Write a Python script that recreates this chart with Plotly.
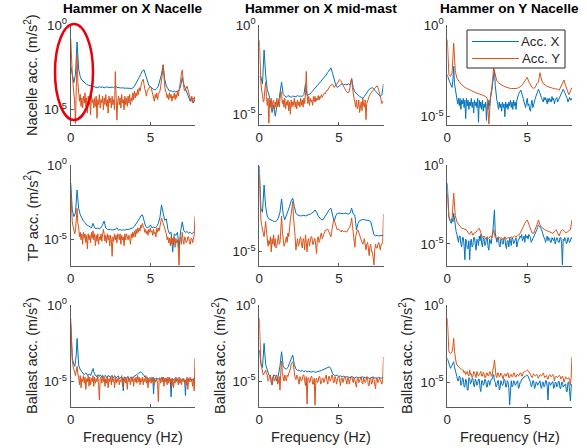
import plotly.graph_objects as go

# ---------------------------------------------------------------------------
# Data: acceleration spectra, stored as log10(amplitude in m/s^2).
# Smooth spectra use 0.1 Hz bins, noisy spectra use 0.05 Hz bins.
# ---------------------------------------------------------------------------
freq_coarse = [0.0, 0.1, 0.2, 0.3, 0.4, 0.5, 0.6, 0.7, 0.8, 0.9,
               1.0, 1.1, 1.2, 1.3, 1.4, 1.5, 1.6, 1.7, 1.8, 1.9,
               2.0, 2.1, 2.2, 2.3, 2.4, 2.5, 2.6, 2.7, 2.8, 2.9,
               3.0, 3.1, 3.2, 3.3, 3.4, 3.5, 3.6, 3.7, 3.8, 3.9,
               4.0, 4.1, 4.2, 4.3, 4.4, 4.5, 4.6, 4.7, 4.8, 4.9,
               5.0, 5.1, 5.2, 5.3, 5.4, 5.5, 5.6, 5.7, 5.8, 5.9,
               6.0, 6.1, 6.2, 6.3, 6.4, 6.5, 6.6, 6.7, 6.8, 6.9,
               7.0, 7.1, 7.2, 7.3, 7.4, 7.5, 7.6, 7.7, 7.8]
freq_fine = [0.0, 0.05, 0.1, 0.15, 0.2, 0.25, 0.3, 0.35, 0.4, 0.45,
             0.5, 0.55, 0.6, 0.65, 0.7, 0.75, 0.8, 0.85, 0.9, 0.95,
             1.0, 1.05, 1.1, 1.15, 1.2, 1.25, 1.3, 1.35, 1.4, 1.45,
             1.5, 1.55, 1.6, 1.65, 1.7, 1.75, 1.8, 1.85, 1.9, 1.95,
             2.0, 2.05, 2.1, 2.15, 2.2, 2.25, 2.3, 2.35, 2.4, 2.45,
             2.5, 2.55, 2.6, 2.65, 2.7, 2.75, 2.8, 2.85, 2.9, 2.95,
             3.0, 3.05, 3.1, 3.15, 3.2, 3.25, 3.3, 3.35, 3.4, 3.45,
             3.5, 3.55, 3.6, 3.65, 3.7, 3.75, 3.8, 3.85, 3.9, 3.95,
             4.0, 4.05, 4.1, 4.15, 4.2, 4.25, 4.3, 4.35, 4.4, 4.45,
             4.5, 4.55, 4.6, 4.65, 4.7, 4.75, 4.8, 4.85, 4.9, 4.95,
             5.0, 5.05, 5.1, 5.15, 5.2, 5.25, 5.3, 5.35, 5.4, 5.45,
             5.5, 5.55, 5.6, 5.65, 5.7, 5.75, 5.8, 5.85, 5.9, 5.95,
             6.0, 6.05, 6.1, 6.15, 6.2, 6.25, 6.3, 6.35, 6.4, 6.45,
             6.5, 6.55, 6.6, 6.65, 6.7, 6.75, 6.8, 6.85, 6.9, 6.95,
             7.0, 7.05, 7.1, 7.15, 7.2, 7.25, 7.3, 7.35, 7.4, 7.45,
             7.5, 7.55, 7.6, 7.65, 7.7, 7.75, 7.8]

hammer_cases = ["Hammer on X Nacelle", "Hammer on X mid-mast", "Hammer on Y Nacelle"]
sensor_labels = ["Nacelle acc. (m/s<sup>2</sup>)", "TP acc. (m/s<sup>2</sup>)",
                 "Ballast acc. (m/s<sup>2</sup>)"]
series_names = ["Acc. X", "Acc. Y"]

# ----- Nacelle sensor -----
nac_hxn_x = [-2.4, -3.0, -3.4, -2.9, -1.0, -2.6, -3.05, -3.25, -3.35, -3.45,
             -3.5, -3.55, -3.58, -3.6, -3.62, -3.65, -3.66, -3.7, -3.64, -3.68,
             -3.66, -3.7, -3.67, -3.65, -3.7, -3.68, -3.66, -3.7, -3.6, -3.68,
             -3.7, -3.68, -3.72, -3.7, -3.74, -3.72, -3.75, -3.74, -3.76, -3.72,
             -3.6, -3.45, -3.3, -3.1, -2.9, -2.7, -2.65, -3.0, -3.35, -3.55,
             -3.65, -3.75, -3.8, -3.82, -3.75, -3.6, -3.3, -2.9, -2.35, -3.2,
             -3.6, -3.8, -3.9, -3.88, -3.92, -3.9, -3.95, -3.9, -3.85, -3.6,
             -3.1, -3.5, -3.75, -3.9, -4.2, -4.5, -4.3, -4.6, -4.4]
nac_hxn_y = [-0.8, -2.2, -2.9, -3.5, -4.1, -4.6, -5.8, -3.2, -1.75, -3.4,
             -3.9, -4.5, -4.1, -4.8, -4.3, -4.9, -4.2, -4.6, -4.0, -4.8,
             -4.3, -5.2, -4.2, -4.7, -4.5, -5.3, -4.1, -4.6, -4.4, -4.9,
             -4.3, -4.8, -4.2, -5.5, -4.4, -4.7, -4.1, -4.9, -4.4, -4.6,
             -4.2, -5.0, -4.3, -4.7, -4.1, -4.8, -4.4, -5.2, -4.2, -4.6,
             -4.3, -4.9, -4.2, -4.7, -4.4, -5.0, -2.75, -4.0, -5.6, -4.5,
             -4.2, -4.7, -4.3, -4.9, -4.1, -4.6, -4.4, -5.0, -4.2, -4.7,
             -4.3, -4.8, -4.2, -4.6, -4.1, -4.7, -4.3, -4.5, -4.0, -4.4,
             -3.9, -4.3, -4.0, -4.2, -3.8, -4.1, -3.7, -3.9, -3.5, -3.4,
             -3.3, -3.2, -3.5, -3.8, -4.0, -4.2, -3.9, -3.8, -3.7, -3.6,
             -3.6, -3.7, -3.9, -4.1, -4.2, -4.5, -4.1, -4.3, -4.0, -4.4,
             -4.1, -4.0, -3.9, -3.6, -3.3, -2.9, -2.35, -3.2, -3.6, -3.9,
             -4.0, -4.3, -4.1, -4.4, -4.0, -4.3, -4.1, -4.5, -4.2, -4.3,
             -4.0, -4.4, -4.1, -4.3, -3.9, -4.2, -3.8, -3.6, -3.2, -2.9,
             -2.65, -3.3, -3.7, -3.9, -3.8, -3.7, -3.6, -3.8, -4.0, -4.2,
             -4.3, -4.5, -4.2, -4.6, -4.3, -4.4, -4.2]
nac_hxm_x = [-2.9, -2.9, -3.3, -1.4, -2.8, -3.6, -3.9, -4.3, -4.9, -4.5,
             -5.1, -4.6, -4.4, -3.8, -3.2, -3.9, -4.0, -4.05, -3.95, -4.0,
             -4.05, -3.98, -4.0, -4.02, -3.95, -4.0, -3.98, -4.0, -3.9, -3.3,
             -3.95, -3.9, -3.85, -3.75, -3.65, -3.55, -3.45, -3.35, -3.25, -3.15,
             -3.05, -2.95, -2.8, -2.65, -2.5, -2.4, -2.7, -3.1, -3.35, -3.5,
             -3.4, -3.35, -3.3, -3.35, -3.32, -3.35, -3.3, -3.35, -3.0, -3.5,
             -3.75, -3.85, -3.9, -4.0, -4.05, -4.1, -4.0, -3.85, -3.7, -3.6,
             -3.55, -3.5, -3.6, -3.7, -3.85, -3.95, -4.0, -3.9, -3.3]
nac_hxm_y = [-0.85, -2.6, -3.2, -3.7, -3.9, -4.3, -4.2, -3.6, -3.2, -4.0,
             -4.5, -4.1, -5.5, -4.2, -4.6, -4.1, -4.7, -4.3, -4.2, -4.8,
             -4.3, -4.6, -4.1, -4.5, -4.2, -4.6, -3.9, -3.7, -3.9, -4.4,
             -4.2, -4.6, -4.1, -4.7, -4.3, -4.5, -4.2, -4.8, -4.3, -5.0,
             -4.2, -4.6, -4.3, -4.5, -4.1, -4.6, -4.3, -4.7, -4.2, -4.5,
             -4.3, -4.6, -4.1, -4.5, -4.2, -4.6, -4.1, -4.4, -3.8, -2.6,
             -3.9, -4.4, -4.0, -4.5, -4.1, -4.3, -4.2, -4.5, -4.0, -4.3,
             -4.0, -4.3, -4.1, -4.2, -3.95, -4.2, -4.0, -4.1, -3.9, -4.05,
             -3.95, -3.9, -3.8, -3.85, -3.7, -3.7, -3.6, -3.55, -3.45, -3.4,
             -3.4, -3.35, -3.3, -3.4, -3.5, -3.45, -3.4, -3.3, -3.25, -3.2,
             -3.1, -3.05, -3.1, -3.2, -3.3, -3.4, -3.5, -3.55, -3.6, -3.7,
             -3.75, -3.8, -3.8, -3.7, -3.5, -3.3, -3.0, -3.5, -3.9, -4.1,
             -4.3, -4.6, -4.2, -4.7, -4.6, -4.2, -4.9, -4.4, -4.3, -4.8,
             -4.1, -4.5, -4.6, -4.2, -5.3, -4.4, -4.3, -4.1, -4.0, -3.9,
             -3.8, -3.75, -3.7, -3.65, -3.6, -3.55, -3.5, -3.45, -3.4, -3.5,
             -3.6, -3.8, -4.0, -4.2, -4.4, -4.3, -4.3]
nac_hyn_x = [-2.7, -2.9, -3.0, -3.1, -3.2, -3.3, -3.4, -3.0, -2.25, -3.2,
             -3.5, -3.8, -3.9, -4.3, -4.0, -4.4, -4.0, -4.6, -4.1, -4.3,
             -4.0, -4.5, -4.1, -5.1, -4.0, -4.4, -4.1, -4.6, -4.2, -4.4,
             -4.0, -4.5, -4.2, -4.8, -4.1, -4.4, -4.2, -4.5, -4.0, -5.3,
             -4.1, -4.5, -4.2, -4.6, -4.1, -4.7, -4.3, -4.5, -4.2, -5.2,
             -4.3, -4.6, -4.1, -4.4, -4.0, -3.8, -3.5, -3.1, -2.7, -2.45,
             -3.3, -3.8, -4.1, -4.3, -4.6, -4.2, -4.5, -4.3, -4.7, -4.2,
             -4.5, -4.3, -5.0, -4.2, -4.5, -4.3, -4.6, -4.2, -4.4, -4.1,
             -4.5, -4.2, -4.6, -4.1, -4.4, -4.2, -4.6, -4.1, -3.9, -3.8,
             -3.7, -3.6, -3.55, -3.7, -3.8, -4.0, -4.2, -4.4, -4.5, -4.2,
             -4.0, -4.4, -4.3, -4.6, -4.7, -4.3, -4.1, -4.5, -4.4, -4.2,
             -4.0, -3.9, -3.8, -3.6, -3.5, -3.6, -3.7, -3.9, -4.0, -4.1,
             -4.2, -3.95, -4.1, -3.95, -4.15, -4.3, -4.0, -4.2, -4.0, -4.1,
             -4.2, -3.9, -4.1, -4.0, -4.3, -4.1, -4.0, -3.95, -4.2, -4.1,
             -4.0, -3.9, -3.8, -3.7, -3.6, -3.5, -3.6, -3.7, -3.8, -3.9,
             -4.0, -4.2, -4.1, -3.95, -4.1, -4.0, -4.1]
nac_hyn_y = [-0.8, -2.7, -2.8, -2.6, -1.0, -2.5, -2.9, -3.05, -3.15, -3.25,
             -3.35, -3.4, -3.45, -3.5, -3.55, -3.6, -3.63, -3.66, -3.7, -3.72,
             -3.75, -3.78, -3.82, -3.86, -3.9, -4.0, -5.4, -3.9, -3.3, -2.35,
             -2.8, -3.05, -3.15, -3.22, -3.28, -3.32, -3.36, -3.4, -3.43, -3.45,
             -3.46, -3.47, -3.47, -3.46, -3.44, -3.4, -3.35, -3.25, -3.1, -2.95,
             -2.85, -3.1, -3.3, -3.4, -3.45, -3.4, -3.2, -3.1, -2.6, -3.0,
             -3.2, -3.28, -3.32, -3.36, -3.4, -3.42, -3.45, -3.47, -3.48, -3.5,
             -3.55, -3.35, -3.1, -3.0, -3.3, -3.6, -3.8, -3.6, -3.4]

# ----- Transition piece (TP) sensor -----
tp_hxn_x = [-1.2, -3.0, -3.45, -3.2, -1.67, -2.9, -3.33, -3.6, -3.75, -3.85,
            -4.0, -4.05, -4.1, -4.2, -3.9, -4.2, -4.25, -4.22, -4.26, -4.2,
            -4.0, -3.74, -4.2, -4.3, -4.32, -4.3, -4.35, -4.32, -4.3, -4.2,
            -4.35, -4.32, -4.36, -4.33, -4.35, -4.3, -4.32, -4.28, -4.25, -4.2,
            -4.1, -3.95, -3.8, -3.6, -3.4, -3.33, -3.7, -4.1, -4.2, -4.15,
            -4.0, -4.2, -4.15, -4.2, -4.1, -3.9, -3.5, -2.67, -3.2, -3.7,
            -3.6, -4.3, -4.6, -4.5, -5.8, -4.6, -4.7, -4.5, -5.6, -4.4,
            -3.8, -4.4, -4.5, -4.45, -4.55, -4.5, -4.6, -4.5, -4.55]
tp_hxn_y = [-1.67, -3.2, -3.8, -4.1, -4.3, -4.6, -4.4, -3.8, -2.9, -3.9,
            -4.2, -4.8, -4.5, -5.0, -4.6, -5.3, -4.5, -4.9, -4.6, -5.2,
            -4.7, -5.6, -4.6, -5.0, -4.7, -5.2, -4.5, -4.9, -4.4, -5.0,
            -4.6, -5.4, -4.7, -5.1, -4.6, -5.3, -4.8, -5.0, -4.6, -5.1,
            -4.4, -4.3, -4.6, -5.1, -4.7, -5.2, -4.6, -5.0, -4.7, -5.4,
            -4.7, -5.0, -6.1, -4.8, -5.1, -4.6, -5.0, -4.7, -5.2, -4.6,
            -4.7, -5.0, -4.6, -5.3, -4.7, -5.0, -4.8, -5.4, -4.6, -5.0,
            -4.6, -4.9, -5.0, -4.7, -4.9, -5.3, -4.6, -4.9, -4.5, -4.8,
            -4.4, -4.8, -4.3, -4.6, -4.2, -4.5, -4.2, -4.4, -4.0, -4.2,
            -3.9, -4.1, -4.2, -4.5, -4.3, -4.6, -4.4, -4.7, -4.3, -4.5,
            -4.2, -4.5, -4.4, -4.7, -4.3, -4.6, -4.5, -4.8, -4.2, -4.5,
            -4.2, -4.4, -4.0, -3.8, -3.55, -3.7, -3.9, -4.1, -4.3, -4.5,
            -4.6, -5.0, -4.8, -5.2, -4.9, -5.4, -4.8, -5.3, -4.9, -5.2,
            -4.8, -5.5, -4.9, -5.2, -5.0, -5.6, -6.7, -5.0, -4.8, -5.3,
            -4.5, -5.0, -5.3, -4.8, -4.9, -5.2, -5.1, -4.8, -4.8, -5.2,
            -5.3, -4.9, -4.9, -5.2, -5.0, -4.7, -3.45]
tp_hxm_x = [-0.45, -2.7, -2.9, -1.46, -2.6, -3.1, -3.25, -3.3, -3.35, -3.38,
            -3.4, -3.35, -3.2, -2.9, -2.2, -3.0, -3.3, -3.1, -2.9, -2.6,
            -2.3, -2.16, -2.6, -2.95, -3.05, -3.08, -3.1, -3.08, -3.06, -3.1,
            -3.08, -3.05, -3.0, -2.95, -2.9, -2.78, -2.9, -3.1, -3.2, -3.3,
            -3.3, -3.15, -3.0, -2.85, -2.75, -2.69, -3.0, -3.4, -3.1, -2.96,
            -2.95, -2.97, -3.0, -2.98, -2.95, -2.97, -3.0, -2.95, -2.69, -3.0,
            -3.05, -3.84, -3.5, -3.35, -3.3, -3.28, -3.3, -3.32, -3.3, -3.35,
            -3.4, -3.7, -4.1, -4.15, -4.12, -4.16, -4.14, -4.15, -4.12]
tp_hxm_y = [-0.93, -2.8, -3.3, -3.6, -3.85, -4.0, -4.2, -3.8, -3.4, -3.9,
            -4.3, -4.7, -4.4, -4.6, -4.2, -5.0, -4.3, -4.6, -4.1, -4.7,
            -4.3, -4.8, -4.7, -4.4, -4.1, -4.6, -4.5, -3.8, -3.1, -3.9,
            -4.4, -4.7, -4.6, -4.3, -4.2, -4.5, -4.0, -4.2, -3.6, -3.3,
            -3.0, -2.7, -2.34, -3.2, -3.6, -4.2, -4.9, -4.4, -4.3, -4.7,
            -4.6, -4.3, -4.2, -4.6, -4.8, -4.3, -4.4, -4.9, -4.1, -4.5,
            -5.0, -4.4, -4.3, -4.7, -4.5, -4.2, -4.2, -4.6, -4.6, -4.3,
            -4.3, -4.7, -5.1, -4.3, -4.2, -4.5, -4.4, -4.1, -4.0, -4.3,
            -4.2, -4.0, -3.9, -3.85, -3.85, -3.8, -3.8, -3.9, -4.0, -4.1,
            -4.2, -3.9, -3.6, -3.4, -3.3, -3.45, -3.6, -3.75, -3.85, -3.8,
            -3.8, -3.85, -3.9, -3.95, -3.85, -3.9, -3.95, -3.9, -3.9, -3.95,
            -3.95, -3.85, -3.8, -3.75, -3.65, -3.5, -3.2, -3.6, -3.9, -4.3,
            -4.75, -4.2, -3.9, -3.85, -3.85, -4.0, -4.1, -4.3, -4.4, -4.5,
            -4.6, -4.4, -4.3, -4.6, -4.9, -4.6, -4.5, -4.8, -5.2, -4.7,
            -4.6, -5.0, -5.0, -5.3, -5.69, -4.9, -4.6, -4.8, -4.8, -4.6,
            -4.5, -4.7, -4.9, -4.6, -4.6, -4.5, -3.0]
tp_hyn_x = [-1.16, -2.9, -3.3, -3.5, -3.6, -3.7, -3.4, -3.6, -3.06, -3.6,
            -3.9, -4.2, -4.4, -4.7, -4.9, -4.5, -4.5, -5.0, -5.2, -4.6,
            -4.6, -5.1, -6.0, -4.7, -4.8, -5.3, -5.3, -4.8, -6.0, -4.9,
            -4.7, -5.2, -5.1, -4.6, -4.6, -5.0, -5.4, -4.7, -4.8, -5.1,
            -4.5, -4.8, -4.4, -5.0, -5.2, -4.6, -4.7, -5.1, -5.0, -4.6,
            -4.6, -5.2, -5.4, -4.7, -4.8, -5.0, -4.5, -4.2, -3.5, -2.85,
            -4.3, -4.8, -4.9, -4.6, -4.6, -5.1, -5.2, -4.7, -4.7, -5.0,
            -5.0, -4.6, -4.6, -5.1, -5.3, -4.8, -4.8, -5.2, -4.6, -4.8,
            -5.1, -4.6, -4.7, -5.0, -4.9, -4.7, -4.6, -5.2, -5.0, -4.7,
            -4.7, -4.5, -4.6, -4.4, -4.8, -4.6, -4.5, -4.9, -4.4, -4.6,
            -4.5, -4.7, -4.4, -4.5, -4.6, -4.9, -4.8, -4.6, -4.6, -4.5,
            -4.4, -4.3, -4.1, -3.95, -3.8, -3.85, -3.9, -4.0, -4.1, -4.3,
            -4.4, -4.6, -4.7, -4.9, -4.6, -4.5, -4.8, -4.6, -4.65, -4.9,
            -4.9, -4.6, -4.7, -4.8, -4.6, -5.0, -4.8, -4.6, -4.7, -4.9,
            -4.9, -4.6, -4.6, -5.0, -6.33, -4.7, -4.8, -4.6, -4.7, -5.0,
            -4.9, -4.6, -4.75, -4.9, -4.8, -4.6, -4.7]
tp_hyn_y = [-1.79, -3.3, -3.5, -3.4, -1.79, -3.2, -3.6, -3.8, -3.9, -4.0,
            -4.05, -4.1, -4.11, -4.3, -4.4, -4.2, -4.45, -4.3, -4.25, -4.1,
            -4.01, -4.3, -4.6, -4.5, -4.7, -4.55, -4.65, -4.5, -4.6, -4.1,
            -4.6, -4.7, -4.55, -4.65, -4.6, -4.75, -4.55, -4.7, -4.6, -4.65,
            -4.55, -4.6, -4.5, -4.55, -4.45, -4.43, -4.2, -4.0, -3.8, -3.6,
            -3.48, -3.8, -4.1, -4.3, -4.33, -4.1, -3.8, -3.48, -3.8, -3.95,
            -4.05, -4.1, -4.15, -4.2, -4.25, -4.3, -4.33, -4.2, -4.1, -4.3,
            -4.5, -4.2, -4.1, -4.15, -4.3, -4.25, -4.2, -4.1, -3.48]

# ----- Ballast sensor -----
bal_hxn_x = [-1.2, -2.8, -3.4, -3.7, -3.9, -4.0, -3.7, -3.2, -2.18, -3.4,
             -3.9, -4.1, -4.25, -4.3, -4.35, -4.45, -4.45, -4.55, -4.5, -4.45,
             -4.47, -4.6, -4.55, -4.5, -4.5, -4.6, -4.4, -4.3, -4.14, -4.35,
             -4.5, -4.6, -4.6, -4.7, -4.55, -4.65, -4.65, -4.55, -4.6, -4.7,
             -4.58, -4.7, -4.65, -4.6, -4.6, -4.75, -4.7, -4.6, -4.62, -4.7,
             -4.68, -4.6, -4.6, -4.75, -4.72, -4.6, -4.65, -4.75, -4.7, -4.65,
             -4.62, -4.8, -4.75, -4.7, -4.68, -4.8, -5.6, -4.7, -4.7, -4.8,
             -4.75, -4.7, -4.65, -4.8, -4.8, -4.7, -4.7, -4.75, -4.72, -4.7,
             -4.65, -4.6, -4.6, -4.55, -4.5, -4.45, -4.4, -4.38, -4.36, -4.4,
             -4.45, -4.5, -4.6, -4.7, -4.75, -4.7, -4.7, -4.8, -4.8, -4.75,
             -4.75, -4.8, -4.82, -4.75, -5.8, -4.8, -4.8, -4.85, -4.75, -4.8,
             -4.85, -4.75, -4.8, -4.85, -4.78, -4.9, -4.7, -4.8, -4.85, -4.8,
             -4.8, -4.9, -4.9, -4.8, -4.8, -4.85, -5.99, -4.8, -4.85, -4.9,
             -4.8, -4.85, -4.9, -4.8, -4.85, -4.95, -5.0, -4.85, -4.8, -4.9,
             -4.9, -4.8, -4.85, -4.9, -5.9, -4.85, -4.9, -4.8, -4.8, -4.9,
             -4.85, -4.8, -4.9, -4.85, -4.8, -4.9, -4.85]
bal_hxn_y = [-0.87, -3.0, -3.6, -4.0, -4.2, -4.5, -4.6, -4.3, -4.0, -4.5,
             -4.7, -5.2, -4.6, -5.4, -4.8, -5.0, -4.6, -5.1, -4.7, -5.5,
             -4.8, -5.0, -4.6, -5.3, -4.7, -5.2, -4.8, -5.0, -4.6, -5.3,
             -4.7, -5.1, -4.8, -5.0, -4.6, -5.2, -6.2, -4.8, -4.7, -5.1,
             -4.6, -5.0, -4.7, -5.3, -4.8, -5.1, -4.7, -5.4, -4.8, -5.0,
             -4.7, -5.2, -4.6, -5.0, -4.8, -5.4, -4.7, -5.1, -4.8, -5.0,
             -4.7, -5.2, -4.9, -5.0, -4.6, -5.3, -4.8, -5.0, -4.7, -5.1,
             -4.8, -5.5, -4.7, -5.0, -4.8, -5.2, -4.7, -5.0, -4.7, -5.3,
             -4.8, -5.0, -4.7, -5.1, -4.6, -5.0, -4.7, -5.2, -4.8, -5.0,
             -4.7, -5.2, -4.8, -5.0, -4.6, -5.1, -4.7, -5.4, -4.8, -5.0,
             -4.8, -5.1, -4.7, -5.0, -4.7, -5.2, -4.9, -5.0, -4.8, -5.1,
             -6.3, -4.9, -4.8, -5.1, -4.7, -5.0, -4.7, -5.3, -4.8, -5.0,
             -4.8, -5.2, -4.7, -5.1, -4.7, -5.0, -4.8, -5.3, -4.8, -5.4,
             -4.9, -5.1, -4.7, -5.0, -4.8, -5.2, -4.7, -5.1, -4.9, -5.2,
             -4.8, -5.0, -4.8, -5.1, -4.9, -5.2, -4.7, -5.5, -4.8, -5.0,
             -4.7, -5.0, -4.9, -5.3, -4.8, -5.6, -3.49]
bal_hxm_x = [-2.96, -3.84, -4.1, -2.52, -3.9, -4.3, -4.61, -4.7, -5.26, -4.6,
             -4.65, -5.0, -4.6, -4.0, -3.07, -4.0, -4.17, -4.2, -4.1, -3.8,
             -3.5, -3.29, -3.9, -4.2, -4.3, -4.28, -4.35, -4.3, -4.38, -4.32,
             -4.4, -4.35, -4.39, -4.4, -4.36, -4.42, -4.4, -4.38, -4.35, -4.3,
             -4.25, -4.2, -4.15, -4.1, -4.06, -4.2, -4.5, -4.6, -4.65, -4.6,
             -4.7, -4.65, -4.72, -4.68, -4.75, -4.7, -4.72, -4.78, -4.7, -4.75,
             -4.8, -4.72, -4.78, -4.75, -4.8, -4.72, -4.78, -4.8, -4.75, -4.82,
             -4.78, -4.75, -4.8, -4.78, -4.82, -4.75, -4.8, -4.78, -4.8]
bal_hxm_y = [-0.88, -3.3, -3.9, -4.1, -4.3, -4.6, -4.5, -4.4, -4.28, -4.5,
             -4.6, -5.0, -4.9, -4.6, -4.6, -5.1, -5.2, -4.7, -4.7, -5.0,
             -4.9, -4.6, -4.6, -5.2, -5.1, -4.7, -5.59, -4.4, -3.7, -4.5,
             -4.8, -5.0, -4.6, -4.9, -5.0, -4.6, -4.7, -4.5, -4.4, -4.2,
             -3.9, -3.8, -3.73, -4.0, -4.5, -4.8, -4.9, -4.6, -4.7, -5.1,
             -5.2, -4.7, -4.8, -5.0, -4.9, -4.6, -4.6, -5.1, -5.3, -4.7,
             -6.5, -4.8, -4.8, -5.1, -5.0, -4.7, -4.7, -5.2, -5.2, -4.8,
             -6.58, -4.9, -4.8, -5.1, -5.0, -4.7, -4.7, -5.2, -5.1, -4.8,
             -4.8, -5.1, -4.9, -4.7, -4.6, -5.0, -5.2, -4.7, -4.7, -5.0,
             -4.9, -4.6, -4.6, -5.1, -5.1, -4.7, -4.8, -5.2, -5.0, -4.7,
             -4.7, -5.0, -5.3, -4.8, -4.8, -5.1, -4.9, -4.7, -4.7, -5.1,
             -5.2, -4.8, -4.8, -5.2, -5.0, -4.7, -4.7, -5.0, -5.1, -4.8,
             -4.9, -5.2, -5.4, -4.8, -4.8, -5.1, -5.0, -4.8, -4.7, -5.1,
             -5.2, -4.8, -4.9, -5.1, -5.0, -4.7, -4.8, -5.3, -5.3, -4.8,
             -4.8, -5.2, -5.1, -4.7, -4.9, -5.3, -5.5, -4.8, -4.8, -5.1,
             -5.0, -4.8, -4.9, -5.1, -5.2, -4.9, -3.4]
bal_hyn_x = [-3.45, -3.6, -3.67, -3.9, -4.1, -4.0, -3.9, -3.8, -3.67, -4.0,
             -4.3, -4.6, -4.64, -4.9, -4.9, -4.6, -4.7, -5.2, -5.1, -4.7,
             -4.8, -5.3, -5.3, -4.8, -4.9, -5.5, -5.5, -4.7, -4.8, -5.1,
             -5.0, -4.75, -4.75, -5.2, -5.3, -4.8, -4.9, -5.2, -5.1, -4.8,
             -4.8, -5.4, -5.6, -4.9, -4.9, -5.2, -5.1, -4.8, -4.85, -5.3,
             -5.3, -4.9, -4.9, -5.2, -5.05, -4.8, -4.8, -4.6, -4.5, -4.9,
             -5.0, -5.3, -5.2, -4.9, -4.9, -5.5, -5.4, -4.9, -5.0, -5.2,
             -5.1, -4.8, -4.85, -5.3, -5.3, -4.9, -5.0, -5.4, -6.47, -5.0,
             -4.9, -5.3, -5.2, -4.9, -4.95, -5.2, -5.1, -4.9, -4.9, -5.4,
             -5.3, -5.0, -5.0, -4.8, -4.8, -4.7, -4.7, -4.6, -4.6, -4.55,
             -4.53, -4.6, -4.7, -4.9, -5.0, -5.3, -5.2, -4.9, -4.9, -5.4,
             -5.3, -5.0, -5.0, -5.2, -5.1, -4.9, -4.9, -5.3, -5.4, -5.0,
             -5.0, -5.3, -5.2, -4.9, -4.9, -5.3, -6.15, -5.0, -5.0, -5.2,
             -5.1, -4.95, -4.95, -5.4, -5.3, -5.0, -5.0, -5.3, -5.2, -4.95,
             -4.95, -5.4, -5.4, -5.0, -5.0, -5.3, -5.2, -5.1, -5.1, -5.6,
             -5.6, -5.0, -5.0, -5.6, -6.2, -5.3, -5.1]
bal_hyn_y = [-0.86, -2.6, -3.02, -3.1, -3.13, -3.1, -3.0, -2.7, -2.16, -3.0,
             -3.5, -3.7, -3.88, -3.95, -4.0, -4.05, -4.1, -4.15, -4.15, -4.2,
             -4.21, -4.4, -4.3, -4.5, -4.4, -4.3, -4.5, -4.6, -4.2, -4.5,
             -4.45, -4.7, -4.6, -4.3, -4.35, -4.6, -4.7, -4.3, -4.4, -4.6,
             -4.5, -4.35, -4.3, -4.6, -4.6, -4.35, -4.45, -4.7, -4.7, -4.4,
             -4.4, -4.6, -4.55, -4.3, -4.35, -4.6, -4.6, -4.2, -4.0, -3.56,
             -4.5, -4.6, -4.7, -4.4, -4.4, -4.65, -4.6, -4.4, -4.5, -4.7,
             -4.8, -4.5, -4.45, -4.6, -4.6, -4.4, -4.4, -4.7, -4.7, -4.5,
             -4.5, -4.65, -4.6, -4.4, -4.4, -4.65, -4.65, -4.5, -4.5, -4.6,
             -4.55, -4.4, -4.4, -4.6, -4.6, -4.35, -4.35, -4.3, -4.3, -4.25,
             -4.2, -4.25, -4.3, -4.4, -4.5, -4.6, -4.7, -4.55, -4.45, -4.5,
             -4.6, -4.55, -4.5, -4.6, -4.75, -4.6, -4.5, -4.55, -4.6, -4.5,
             -4.4, -4.55, -4.7, -4.6, -4.55, -4.7, -4.8, -4.6, -4.5, -4.55,
             -4.65, -4.55, -4.5, -4.6, -4.9, -4.7, -4.6, -4.65, -4.7, -4.6,
             -4.55, -4.6, -4.8, -4.7, -4.6, -4.75, -5.0, -4.8, -4.65, -4.7,
             -4.8, -4.75, -4.7, -4.9, -5.2, -4.6, -3.34]

# (Acc. X, Acc. Y) per panel; rows = sensor, columns = hammer case
spectra = [
    [(nac_hxn_x, nac_hxn_y), (nac_hxm_x, nac_hxm_y), (nac_hyn_x, nac_hyn_y)],
    [(tp_hxn_x, tp_hxn_y), (tp_hxm_x, tp_hxm_y), (tp_hyn_x, tp_hyn_y)],
    [(bal_hxn_x, bal_hxn_y), (bal_hxm_x, bal_hxm_y), (bal_hyn_x, bal_hyn_y)],
]

# y-axis limits per panel (log10 of m/s^2)
y_log_limits = [
    [(-5.9, 0.0), (-5.6, 0.0), (-5.45, 0.0)],
    [(-6.75, 0.0), (-5.75, -0.4), (-6.4, 0.0)],
    [(-6.65, 0.0), (-6.7, 0.0), (-6.6, 0.0)],
]
x_limits = (0.0, 7.8)


def grid_for(values):
    if len(values) == len(freq_fine):
        return freq_fine
    assert len(values) == len(freq_coarse), len(values)
    return freq_coarse


# ---------------------------------------------------------------------------
# Figure
# ---------------------------------------------------------------------------
W, H = 587, 448
BLUE = "#0072BD"
ORANGE = "#D95319"
AXIS_COLOR = "#5a5a5a"
TEXT_COLOR = "#262626"
FONT = "Liberation Sans, Arial, Helvetica, sans-serif"

col_px = [(70.7, 195.0), (259.3, 383.5), (447.3, 572.0)]
row_px = [(25.0, 125.0), (165.0, 266.0), (305.0, 407.0)]


def px_x(p):
    return p / W


def px_y(p):
    return 1.0 - p / H


fig = go.Figure()
layout = dict(
    width=W, height=H, autosize=False,
    margin=dict(l=0, r=0, t=0, b=0, pad=0, autoexpand=False),
    paper_bgcolor="white", plot_bgcolor="white",
    showlegend=False,
    font=dict(family=FONT, color=TEXT_COLOR),
)

annotations = []
shapes = []

for r in range(3):
    for c in range(3):
        idx = r * 3 + c + 1
        sx = "" if idx == 1 else str(idx)
        accx, accy = spectra[r][c]
        for vals, color, name in ((accx, BLUE, series_names[0]), (accy, ORANGE, series_names[1])):
            fig.add_trace(go.Scatter(
                x=grid_for(vals), y=[10 ** v for v in vals], mode="lines", name=name,
                line=dict(color=color, width=1), xaxis="x" + sx, yaxis="y" + sx,
                hoverinfo="skip",
            ))
        x0, x1 = col_px[c]
        y0, y1 = row_px[r]
        layout["xaxis" + sx] = dict(
            domain=[px_x(x0), px_x(x1)], anchor="y" + sx, range=list(x_limits),
            tickvals=[0, 5], ticks="inside", ticklen=3, tickcolor=AXIS_COLOR,
            showline=True, linecolor=AXIS_COLOR, linewidth=1,
            showgrid=False, zeroline=False, automargin=False,
            tickfont=dict(size=13.3, color=TEXT_COLOR, family=FONT),
        )
        lo, hi = y_log_limits[r][c]
        layout["yaxis" + sx] = dict(
            domain=[px_y(y1), px_y(y0)], anchor="x" + sx, type="log", range=[lo, hi],
            tickvals=[1e-5, 1.0], ticktext=["10<sup>-5</sup>", "10<sup>0</sup>"],
            ticks="inside", ticklen=3, tickcolor=AXIS_COLOR,
            showline=True, linecolor=AXIS_COLOR, linewidth=1,
            showgrid=False, zeroline=False, automargin=False,
            tickfont=dict(size=13.3, color=TEXT_COLOR, family=FONT),
        )

# column titles and x-axis labels
for c in range(3):
    xc = px_x(sum(col_px[c]) / 2)
    annotations.append(dict(
        x=xc, y=px_y(8.5), xref="paper", yref="paper", text="<b>" + hammer_cases[c] + "</b>",
        showarrow=False, xanchor="center", yanchor="middle",
        font=dict(size=13.6, color="#000000", family=FONT),
    ))
    annotations.append(dict(
        x=xc, y=px_y(437), xref="paper", yref="paper", text="Frequency (Hz)",
        showarrow=False, xanchor="center", yanchor="middle",
        font=dict(size=14.5, color=TEXT_COLOR, family=FONT),
    ))

# y-axis labels: left column on every row, plus the bottom row of the other columns
ylabel_x = [31, 219, 406]
for r in range(3):
    for c in range(3):
        if c > 0 and r < 2:
            continue
        annotations.append(dict(
            x=px_x(ylabel_x[c]), y=px_y(sum(row_px[r]) / 2), xref="paper", yref="paper",
            text=sensor_labels[r], textangle=-90, showarrow=False,
            xanchor="center", yanchor="middle",
            font=dict(size=14.5, color=TEXT_COLOR, family=FONT),
        ))

# legend box in the top-right panel
shapes.append(dict(type="rect", xref="paper", yref="paper",
                   x0=px_x(467), x1=px_x(565), y0=px_y(68), y1=px_y(30),
                   line=dict(color=TEXT_COLOR, width=1), fillcolor="white", layer="above"))
for i, (name, color) in enumerate(zip(series_names, (BLUE, ORANGE))):
    yy = px_y(41.5 + 17 * i)
    shapes.append(dict(type="line", xref="paper", yref="paper",
                       x0=px_x(472), x1=px_x(519), y0=yy, y1=yy,
                       line=dict(color=color, width=1), layer="above"))
    annotations.append(dict(
        x=px_x(562), y=yy, xref="paper", yref="paper", text=name, showarrow=False,
        xanchor="right", yanchor="middle",
        font=dict(size=13.3, color=TEXT_COLOR, family=FONT),
    ))

# highlight around the low-frequency peaks of the first panel
shapes.append(dict(type="circle", xref="paper", yref="paper",
                   x0=px_x(55), x1=px_x(93), y0=px_y(120), y1=px_y(24),
                   line=dict(color="#E8000B", width=2.5), layer="above"))

layout["annotations"] = annotations
layout["shapes"] = shapes
fig.update_layout(**layout)

fig.write_html("out.html")
